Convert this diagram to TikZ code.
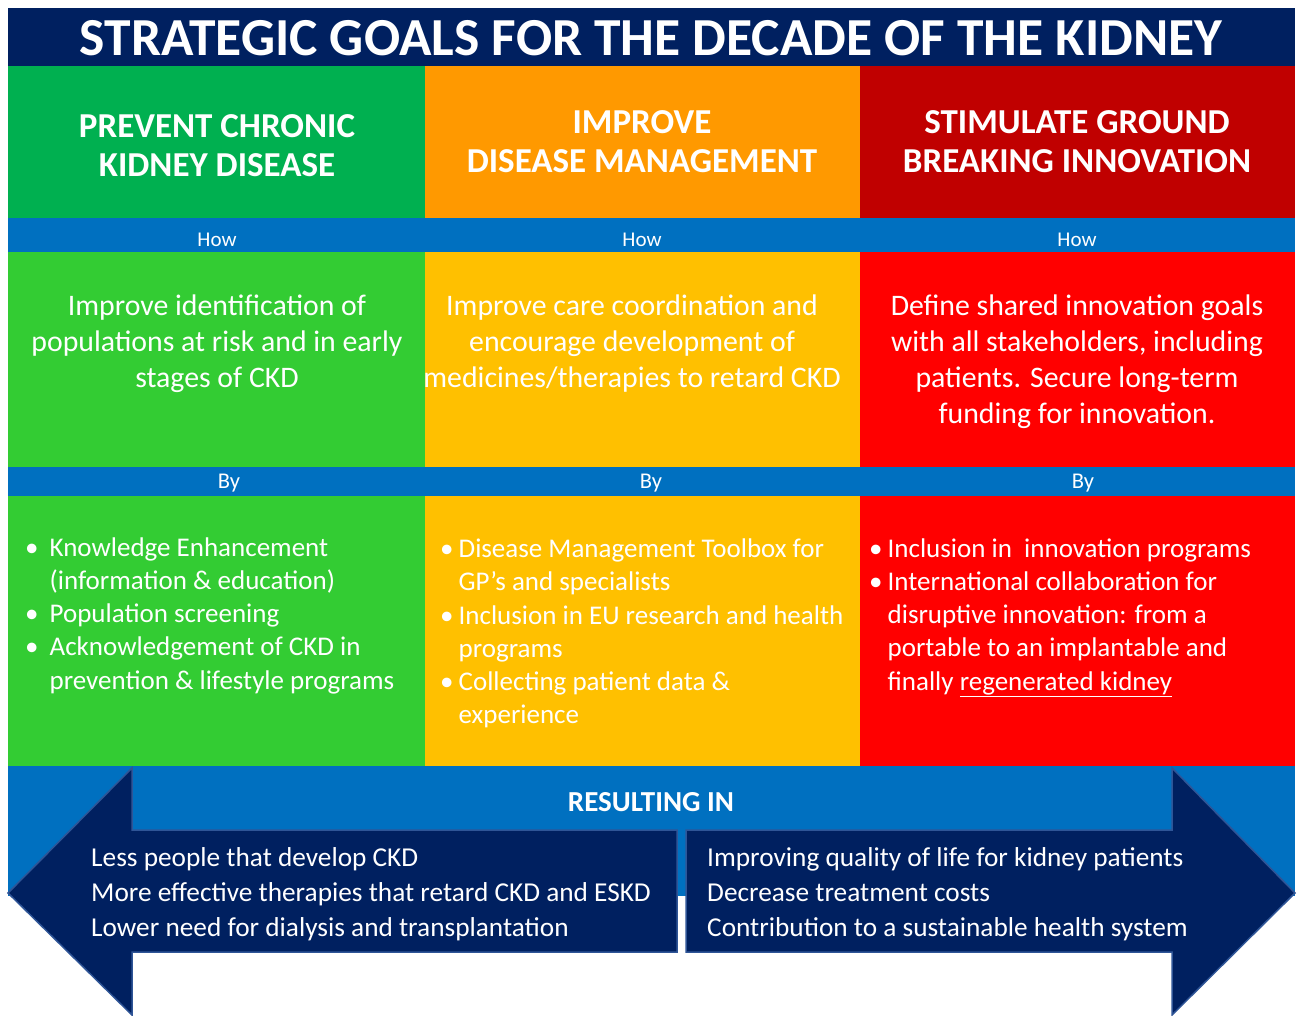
\documentclass[tikz,border=0pt]{standalone}
\usepackage{fontspec}
\setmainfont{Carlito}
\usepackage{xcolor}
\usepackage{tikz}
\usetikzlibrary{positioning}

\definecolor{navy}{HTML}{002060}
\definecolor{headgreen}{HTML}{00B050}
\definecolor{headorange}{HTML}{FF9900}
\definecolor{headred}{HTML}{C00000}
\definecolor{barblue}{HTML}{0070C0}
\definecolor{cellgreen}{HTML}{33CC33}
\definecolor{cellyellow}{HTML}{FFC000}
\definecolor{cellred}{HTML}{FF0000}
\definecolor{arrowedge}{HTML}{2F5597}

\begin{document}
\begin{tikzpicture}[x=1pt, y=-1pt,
    every node/.style={text=white, inner sep=0pt},
    titletxt/.style={font=\fontsize{53.5}{60}\selectfont\bfseries},
    headtxt/.style={font=\fontsize{35}{39}\selectfont\bfseries, align=center},
    bartxt/.style={font=\fontsize{21}{24}\selectfont},
    howtxt/.style={font=\fontsize{29.8}{36}\selectfont, align=center},
    bytxt/.style={font=\fontsize{27}{33.3}\selectfont, anchor=west},
    restxt/.style={font=\fontsize{27.3}{35}\selectfont, align=left, anchor=west},
    bigarrow/.style={fill=navy, draw=arrowedge, line width=1.5pt}]

\useasboundingbox (0,0) rectangle (1297,1016);

% Title band
\fill[navy] (8,8) rectangle (1295,67);
\node[titletxt] (title) at (651,38) {STRATEGIC GOALS FOR THE DECADE OF THE KIDNEY};

% Goal headers
\fill[headgreen] (8,66) rectangle (425,218);
\fill[headorange] (425,66) rectangle (860,218);
\fill[headred] (860,66) rectangle (1295,218);

\node[headtxt] (goal1) at (217,146) {PREVENT CHRONIC\\KIDNEY DISEASE};
\node[headtxt] (goal2) at (642,142) {IMPROVE\\DISEASE MANAGEMENT};
\node[headtxt] (goal3) at (1077,142) {STIMULATE GROUND\\BREAKING INNOVATION};

% How / By / Resulting bars
\fill[barblue] (8,218) rectangle (1295,252);
\fill[barblue] (8,467) rectangle (1295,496);
\fill[barblue] (8,766) rectangle (1295,896);

\node[bartxt] (how1) at (217,240) {How};
\node[bartxt] (how2) at (642,240) {How};
\node[bartxt] (how3) at (1077,240) {How};

\node[bartxt, font=\fontsize{22.5}{24}\selectfont] (by1) at (229,483) {By};
\node[bartxt, font=\fontsize{22.5}{24}\selectfont] (by2) at (651,483) {By};
\node[bartxt, font=\fontsize{22.5}{24}\selectfont] (by3) at (1083,483) {By};

% How cells
\fill[cellgreen] (8,252) rectangle (425,467);
\fill[cellyellow] (425,252) rectangle (860,467);
\fill[cellred] (860,252) rectangle (1295,467);

\node[howtxt] (aim1) at (217,344) {Improve identification of\\populations at risk and in early\\stages of CKD};
\node[howtxt] (aim2) at (632,344) {Improve care coordination and\\encourage development of\\medicines/therapies to retard CKD};
\node[howtxt] (aim3) at (1077,362) {Define shared innovation goals\\with all stakeholders, including\\patients. Secure long-term\\funding for innovation.};

% By cells
\fill[cellgreen] (8,496) rectangle (425,766);
\fill[cellyellow] (425,496) rectangle (860,766);
\fill[cellred] (860,496) rectangle (1295,766);

\node[bytxt] (act1) at (25,616) {\begin{tabular}{@{}l@{\hspace{11pt}}l@{}}
    \textbullet & Knowledge Enhancement\\
                & (information \& education)\\
    \textbullet & Population screening\\
    \textbullet & Acknowledgement of CKD in\\
                & prevention \& lifestyle programs
\end{tabular}};

\node[bytxt] (act2) at (440,634) {\begin{tabular}{@{}l@{\hspace{5pt}}l@{}}
    \textbullet & Disease Management Toolbox for\\
                & GP’s and specialists\\
    \textbullet & Inclusion in EU research and health\\
                & programs\\
    \textbullet & Collecting patient data \&\\
                & experience
\end{tabular}};

\node[bytxt] (act3) at (869,617) {\begin{tabular}{@{}l@{\hspace{5pt}}l@{}}
    \textbullet & Inclusion in\ \ innovation programs\\
    \textbullet & International collaboration for\\
                & disruptive innovation: from a\\
                & portable to an implantable and\\
                & finally \underline{regenerated kidney}
\end{tabular}};

% Resulting in
\node[font=\fontsize{29}{30}\selectfont\bfseries] (result) at (651,802) {RESULTING IN};

\draw[bigarrow] (8,893) -- (132,768) -- (132,830) -- (677,830) -- (677,952)
    -- (132,952) -- (132,1015) -- cycle;
\draw[bigarrow] (1295,893) -- (1172,768) -- (1172,830) -- (686,830) -- (686,952)
    -- (1172,952) -- (1172,1015) -- cycle;

\node[restxt] (lessout) at (91,894) {Less people that develop CKD\\More effective therapies that retard CKD and ESKD\\Lower need for dialysis and transplantation};
\node[restxt] (moreout) at (707,894) {Improving quality of life for kidney patients\\Decrease treatment costs\\Contribution to a sustainable health system};

\end{tikzpicture}
\end{document}
